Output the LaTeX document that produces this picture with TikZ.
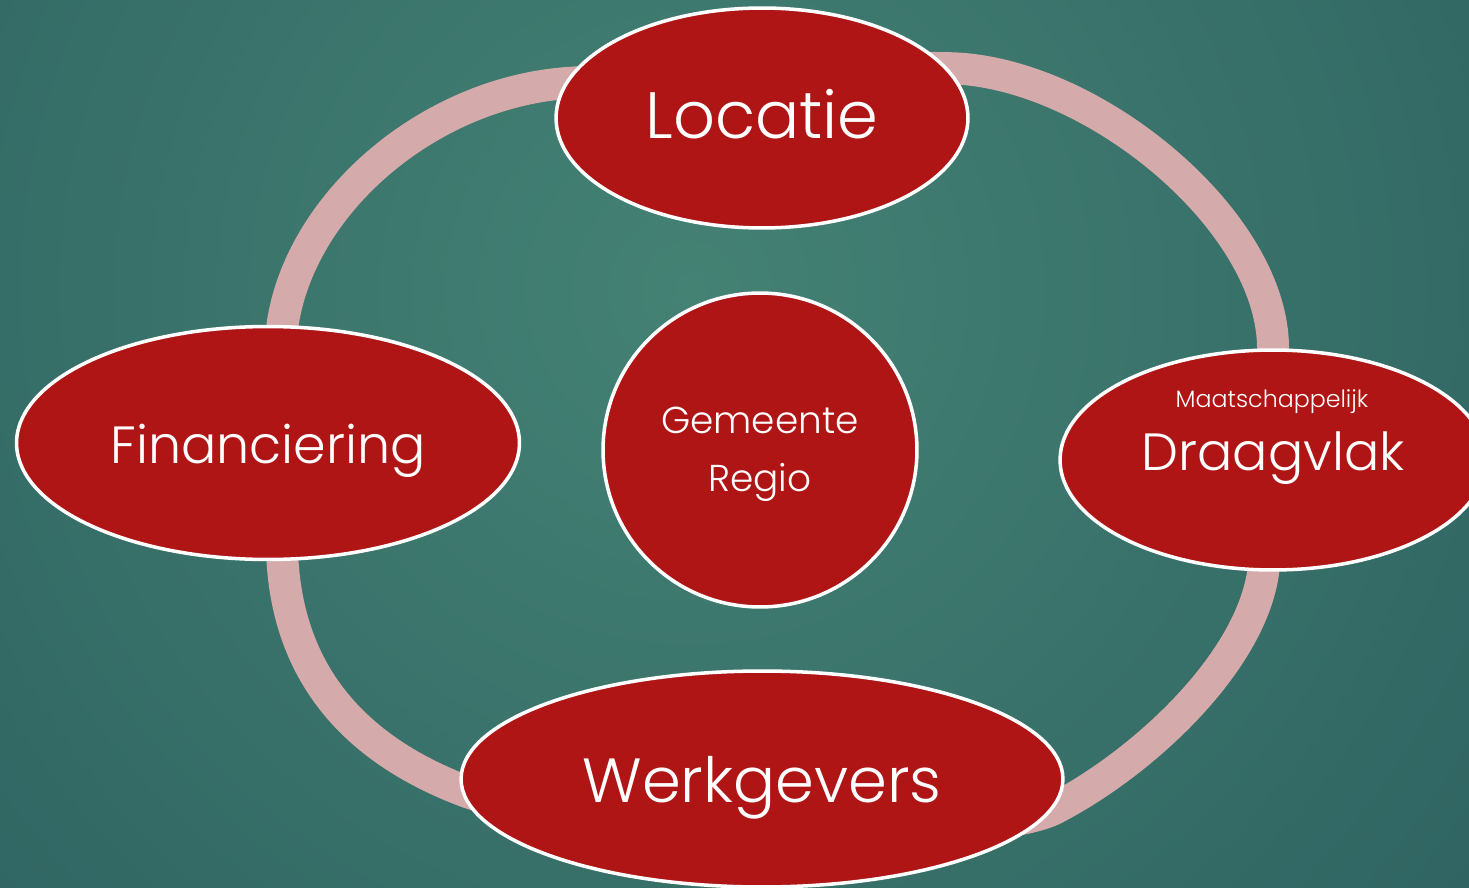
\documentclass[tikz,border=0pt]{standalone}
\usepackage{fontspec}
\setmainfont{Poppins}[UprightFont=* Light]
\usetikzlibrary{shapes.geometric}
\pgfdeclarelayer{background}
\pgfsetlayers{background,main}

\definecolor{bginner}{RGB}{68,130,116}
\definecolor{bgouter}{RGB}{32,78,85}
\definecolor{ringpink}{RGB}{212,170,170}
\definecolor{blobred}{RGB}{176,21,21}

\begin{document}
\begin{tikzpicture}[x=0.02cm, y=-0.02cm,
  blob/.style={ellipse, draw=white, line width=2pt, fill=blobred, inner sep=0pt},
  lbl/.style={text=white, anchor=base, inner sep=0pt},
  ring/.style={draw=ringpink, line width=0.64cm, line join=round}]
\useasboundingbox (0,0) rectangle (1469,888);

%Nodes
\node[blob, minimum width=8.24cm, minimum height=4.4cm] (locatie) at (762,118) {};
\node[blob, minimum width=10.06cm, minimum height=4.66cm] (financiering) at (268,443) {};
\node[blob, minimum width=8.52cm, minimum height=4.4cm] (draagvlak) at (1273,460) {};
\node[blob, minimum width=12.04cm, minimum height=4.32cm] (werkgevers) at (762,779) {};
\node[blob, circle, minimum size=6.28cm] (gemeente) at (760,450) {};

%Labels
\node[lbl, font=\fontsize{37.3}{44}\selectfont] (locatieText) at (762,139) {Locatie};
\node[lbl, font=\fontsize{29.8}{36}\selectfont] (financieringText) at (268,463) {Financiering};
\node[lbl, font=\fontsize{13.5}{16}\selectfont] (maatschappelijkText) at (1272,407) {Maatschappelijk};
\node[lbl, font=\fontsize{29.8}{36}\selectfont] (draagvlakText) at (1273,470) {Draagvlak};
\node[lbl, font=\fontsize{35.5}{43}\selectfont] (werkgeversText) at (762,802) {Werkgevers};
\node[lbl, font=\fontsize{21.3}{26}\selectfont] (gemeenteText) at (760,433) {Gemeente};
\node[lbl, font=\fontsize{21.3}{26}\selectfont] (regioText) at (760,491) {Regio};

%Background and ring
\begin{pgfonlayer}{background}
\begin{scope}
\clip (0,0) rectangle (1469,888);
\shade[inner color=bginner, outer color=bgouter] (690,290) circle (34cm);
\end{scope}
\draw[ring] (locatie.15) .. controls (1090,70) and (1273,220) .. (draagvlak.north)
  -- (draagvlak.265) .. controls (1250,665) and (1140,765) .. (werkgevers.-6)
  .. controls (970,848) and (560,830) .. (werkgevers.182)
  .. controls (360,750) and (290,680) .. (financiering.-83)
  -- (financiering.83) .. controls (300,205) and (425,95) .. (locatie.170)
  .. controls (679,75) and (831,66) .. cycle;
\end{pgfonlayer}
\end{tikzpicture}
\end{document}
